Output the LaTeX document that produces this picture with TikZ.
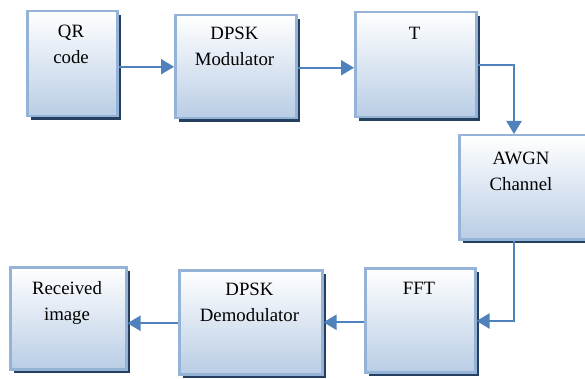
\documentclass[tikz,border=0pt]{standalone}
\usepackage{fontspec}
\setmainfont{Liberation Serif}
\usetikzlibrary{arrows.meta,shadows,calc}
\definecolor{boxborder}{HTML}{95B3D7}
\definecolor{boxbottom}{HTML}{B9CDE5}
\definecolor{shadowc}{HTML}{243F60}
\definecolor{arrowc}{HTML}{4F81BD}
\begin{document}
\begin{tikzpicture}[x=1pt,y=-1pt,
  blk/.style={draw=boxborder, line width=2.5pt, top color=white, bottom color=boxbottom,
    inner sep=0pt, anchor=north west,
    drop shadow={shadow xshift=3.5pt, shadow yshift=-4pt, fill=shadowc, opacity=1}},
  txt/.style={anchor=north, align=center, inner sep=0pt, font=\fontsize{18.8}{26}\selectfont},
  arr/.style={draw=arrowc, line width=2.2pt, -{Triangle[width=15pt,length=13pt]}}]
\clip (0,0) rectangle (585,379);
\fill[white] (0,0) rectangle (585,379);
\node[blk, minimum width=90pt, minimum height=105pt] (qr) at (26,10) {};
\node[blk, minimum width=121pt, minimum height=103pt] (mod) at (174,14) {};
\node[blk, minimum width=121pt, minimum height=105pt] (t) at (354,11) {};
\node[blk, minimum width=140pt, minimum height=104pt] (awgn) at (458,134) {};
\node[blk, minimum width=110pt, minimum height=104pt] (fft) at (364,267) {};
\node[blk, minimum width=143pt, minimum height=104pt] (demod) at (178,269) {};
\node[blk, minimum width=116pt, minimum height=102pt] (rec) at (9,266) {};
\node[txt] (qrt) at (71,25) {QR\\code};
\node[txt] (modt) at (234.5,27) {DPSK\\Modulator};
\node[txt] (tt) at (414.5,27) {T};
\node[txt] (awgnt) at (521,152) {AWGN\\Channel};
\node[txt] (fftt) at (419,282) {FFT};
\node[txt] (demodt) at (249.5,283) {DPSK\\Demodulator};
\node[txt] (rect) at (67,281) {Received\\image};
\coordinate (c1) at (514,65);
\coordinate (c2) at (514,321);
\draw[arr] ([yshift=-3pt]qr.east) -- ([yshift=-3pt]qr.east -| mod.west);
\draw[arr] ([yshift=-1pt]mod.east) -- ([yshift=-1pt]mod.east -| t.west);
\draw[arr] (t.east |- c1) -- (c1) -- (c1 |- awgn.north);
\draw[arr] (c1 |- awgn.south) -- (c2) -- (c2 -| fft.east);
\draw[arr] ([yshift=-2pt]fft.west) -- ([yshift=-2pt]fft.west -| demod.east);
\draw[arr] ([yshift=-1pt]demod.west) -- ([yshift=-1pt]demod.west -| rec.east);
\end{tikzpicture}
\end{document}
